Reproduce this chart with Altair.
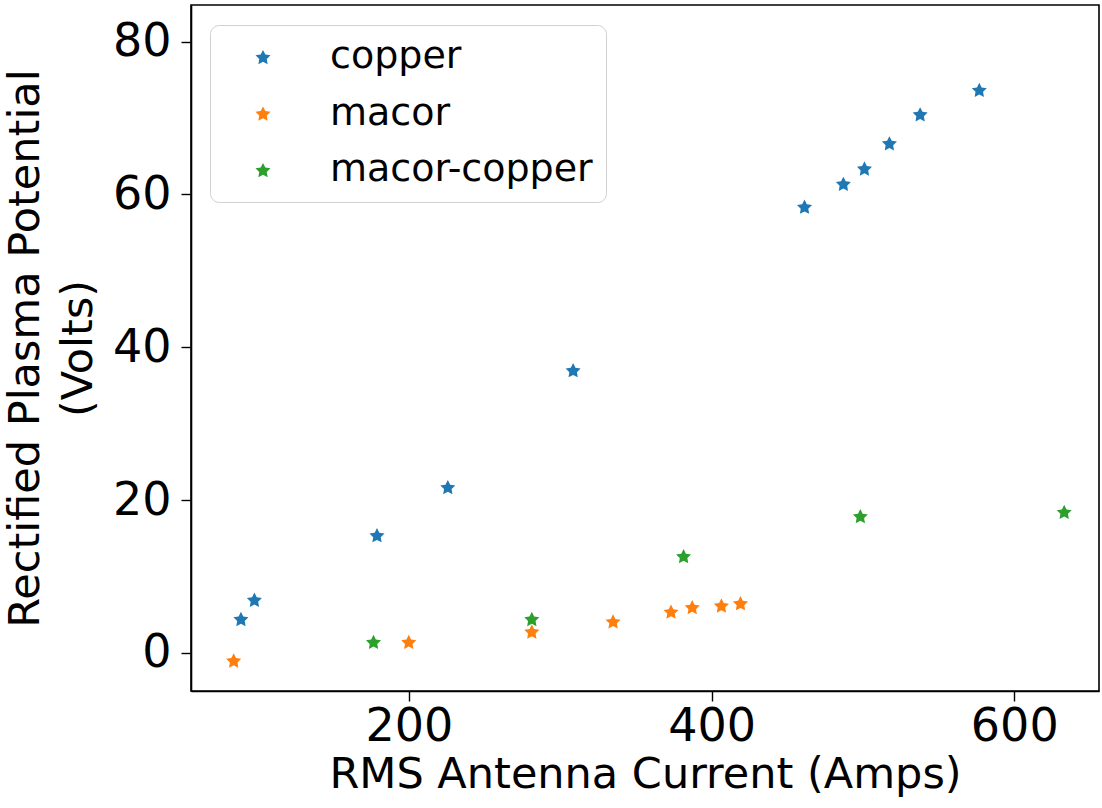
import math
import altair as alt
import pandas as pd

copper_x = [89.0, 97.9, 178.9, 225.7, 308.5, 461.4, 487.1, 501.0, 517.5, 537.8, 576.9]
copper_y = [4.43, 6.95, 15.4, 21.7, 37.0, 58.4, 61.4, 63.4, 66.7, 70.5, 73.7]
macor_x = [84.2, 199.9, 281.2, 334.9, 373.2, 387.2, 406.5, 419.1]
macor_y = [-1.0, 1.43, 2.79, 4.12, 5.4, 5.98, 6.2, 6.5]
mc_x = [176.6, 281.2, 381.5, 498.3, 633.0]
mc_y = [1.43, 4.43, 12.66, 17.9, 18.46]

series = ["copper", "macor", "macor-copper"]
colors = ["#1f77b4", "#ff7f0e", "#2ca02c"]

rows = []
for name, xs, ys in [("copper", copper_x, copper_y), ("macor", macor_x, macor_y), ("macor-copper", mc_x, mc_y)]:
    for a, b in zip(xs, ys):
        rows.append({"current": a, "potential": b, "material": name})
df = pd.DataFrame(rows)

# five-pointed star path in the -1..1 box (matplotlib '*' marker shape)
pts = []
for i in range(10):
    r = 1.0 if i % 2 == 0 else 0.5
    ang = math.radians(-90 + 36 * i)
    pts.append((r * math.cos(ang), r * math.sin(ang) + 0.1))
STAR = "M" + " L".join(f"{px:.4f},{py:.4f}" for px, py in pts) + " Z"

FONT = "DejaVu Sans"

chart = alt.Chart(df).mark_point(shape=STAR, filled=True, size=250, opacity=1, strokeWidth=0).encode(
    x=alt.X("current:Q", scale=alt.Scale(domain=[56, 656], nice=False, zero=False),
            axis=alt.Axis(values=[200, 400, 600], title="RMS Antenna Current (Amps)", grid=False)),
    y=alt.Y("potential:Q", scale=alt.Scale(domain=[-5.0, 84.8], nice=False, zero=False),
            axis=alt.Axis(values=[0, 20, 40, 60, 80], title=["Rectified Plasma Potential", "(Volts)"], grid=False)),
    color=alt.Color("material:N", scale=alt.Scale(domain=series, range=colors),
                    legend=alt.Legend(title=None, orient="none", legendX=19, legendY=20,
                                      symbolType=STAR, symbolSize=250, symbolOffset=21,
                                      symbolStrokeWidth=0,
                                      labelOffset=48, labelFontSize=38, labelFont=FONT,
                                      rowPadding=18.5, padding=13, cornerRadius=9,
                                      strokeColor="#d0d0d0", fillColor="white",
                                      labelColor="black", labelLimit=500)),
).properties(
    width=908, height=686,
    autosize=alt.AutoSizeParams(type="none"),
    padding={"left": 191, "top": 5, "right": 3, "bottom": 117},
).configure_view(
    stroke="black", strokeWidth=1.6
).configure_axis(
    domainColor="black", domainWidth=1.6, tickColor="black", tickSize=10, tickWidth=1.4,
    labelFont=FONT, labelFontSize=46, labelColor="black",
    titleFont=FONT, titleFontSize=43, titleFontWeight="normal", titleColor="black",
).configure_axisX(labelPadding=3, titlePadding=4).configure_axisY(labelPadding=10, titlePadding=12, titleLineHeight=53)

chart.save("out.html", embed_options={"renderer": "svg", "actions": False})
